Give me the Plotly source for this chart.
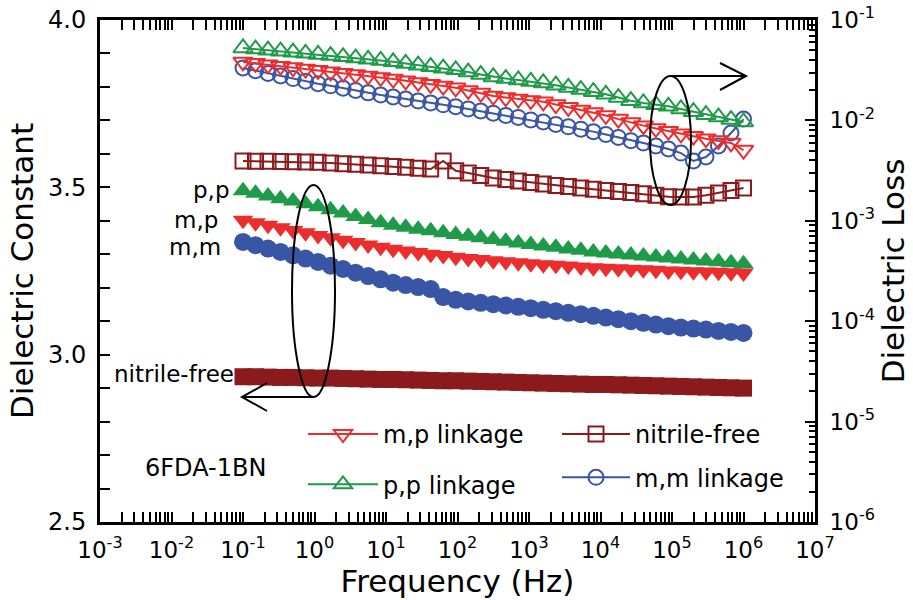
import plotly.graph_objects as go

# Frequency sweep (Hz)
freq_hz = [0.1, 0.1496, 0.2239, 0.3350, 0.5012, 0.7499, 1.122, 1.679, 2.512, 3.758,
           5.623, 8.414, 12.59, 18.84, 28.18, 42.17, 63.10, 94.41, 141.3, 211.3,
           316.2, 473.2, 707.9, 1059, 1585, 2371, 3548, 5309, 7943, 11885,
           17783, 26607, 39811, 59566, 89125, 133352, 199526, 298538, 446684, 668344,
           1000000]

# Dielectric constant (left axis)
eps_pp = [3.490, 3.482, 3.474, 3.466, 3.459, 3.451, 3.442, 3.433, 3.423, 3.413,
          3.404, 3.394, 3.387, 3.381, 3.375, 3.370, 3.364, 3.359, 3.354, 3.349,
          3.344, 3.339, 3.334, 3.329, 3.325, 3.321, 3.316, 3.312, 3.307, 3.304,
          3.301, 3.298, 3.295, 3.292, 3.289, 3.286, 3.283, 3.280, 3.278, 3.275,
          3.272]
eps_mp = [3.402, 3.394, 3.387, 3.379, 3.371, 3.364, 3.356, 3.349, 3.342, 3.335,
          3.328, 3.321, 3.315, 3.310, 3.305, 3.300, 3.296, 3.291, 3.287, 3.284,
          3.281, 3.278, 3.275, 3.272, 3.269, 3.267, 3.265, 3.262, 3.260, 3.258,
          3.257, 3.255, 3.254, 3.252, 3.250, 3.249, 3.248, 3.247, 3.246, 3.245,
          3.244]
eps_mm = [3.337, 3.327, 3.317, 3.307, 3.297, 3.287, 3.277, 3.266, 3.256, 3.245,
          3.235, 3.225, 3.215, 3.208, 3.202, 3.196, 3.172, 3.164, 3.159, 3.155,
          3.151, 3.147, 3.143, 3.139, 3.134, 3.130, 3.125, 3.121, 3.116, 3.111,
          3.106, 3.100, 3.095, 3.090, 3.085, 3.081, 3.078, 3.075, 3.071, 3.068,
          3.065]
eps_nf = [2.934, 2.934, 2.933, 2.932, 2.932, 2.931, 2.930, 2.930, 2.929, 2.928,
          2.927, 2.926, 2.926, 2.925, 2.924, 2.923, 2.922, 2.922, 2.921, 2.920,
          2.919, 2.918, 2.917, 2.916, 2.915, 2.914, 2.913, 2.912, 2.911, 2.911,
          2.910, 2.909, 2.908, 2.907, 2.906, 2.905, 2.904, 2.903, 2.902, 2.901,
          2.900]

# Dielectric loss (right axis)
loss_pp = [0.0526, 0.0513, 0.0501, 0.0489, 0.0478, 0.0466, 0.0454, 0.0442, 0.0430, 0.0418,
           0.0406, 0.0395, 0.0383, 0.0369, 0.0355, 0.0343, 0.0331, 0.0319, 0.0303, 0.0286,
           0.0271, 0.0261, 0.0253, 0.0244, 0.0236, 0.0224, 0.0213, 0.0203, 0.0193, 0.0182,
           0.0169, 0.0157, 0.0149, 0.0143, 0.0138, 0.0130, 0.0122, 0.0114, 0.0108, 0.0102,
           0.00964]
loss_mp = [0.0382, 0.0370, 0.0358, 0.0347, 0.0336, 0.0325, 0.0315, 0.0305, 0.0295, 0.0286,
           0.0277, 0.0268, 0.0258, 0.0248, 0.0239, 0.0229, 0.0220, 0.0211, 0.0199, 0.0187,
           0.0175, 0.0169, 0.0163, 0.0158, 0.0153, 0.0144, 0.0135, 0.0127, 0.0120, 0.0112,
           0.0103, 0.00953, 0.00887, 0.00832, 0.00780, 0.00735, 0.00696, 0.00657, 0.00631, 0.00596,
           0.00507]
loss_mm = [0.0333, 0.0313, 0.0294, 0.0277, 0.0261, 0.0246, 0.0232, 0.0221, 0.0209, 0.0199,
           0.0188, 0.0179, 0.0171, 0.0163, 0.0156, 0.0149, 0.0143, 0.0137, 0.0130, 0.0124,
           0.0118, 0.0112, 0.0107, 0.0101, 0.00964, 0.00912, 0.00863, 0.00817, 0.00773, 0.00725,
           0.00676, 0.00628, 0.00596, 0.00556, 0.00519, 0.00473, 0.00394, 0.00432, 0.00556, 0.00749,
           0.0103]
loss_nf = [0.00394, 0.00392, 0.00391, 0.00390, 0.00388, 0.00386, 0.00383, 0.00377, 0.00371, 0.00365,
           0.00360, 0.00354, 0.00348, 0.00341, 0.00334, 0.00328, 0.00394, 0.00315, 0.00299, 0.00282,
           0.00267, 0.00258, 0.00249, 0.00241, 0.00233, 0.00225, 0.00219, 0.00212, 0.00206, 0.00200,
           0.00196, 0.00191, 0.00186, 0.00180, 0.00174, 0.00173, 0.00173, 0.00180, 0.00189, 0.00200,
           0.00212]

# Axis ticks
x_decades = [1e-3, 1e-2, 1e-1, 1e0, 1e1, 1e2, 1e3, 1e4, 1e5, 1e6, 1e7]
x_tick_text = ["10<sup>-3</sup>", "10<sup>-2</sup>", "10<sup>-1</sup>", "10<sup>0</sup>",
               "10<sup>1</sup>", "10<sup>2</sup>", "10<sup>3</sup>", "10<sup>4</sup>",
               "10<sup>5</sup>", "10<sup>6</sup>", "10<sup>7</sup>"]
eps_ticks = [2.5, 3.0, 3.5, 4.0]
eps_tick_text = ["2.5", "3.0", "3.5", "4.0"]
loss_decades = [1e-6, 1e-5, 1e-4, 1e-3, 1e-2, 1e-1]
loss_tick_text = ["10<sup>-6</sup>", "10<sup>-5</sup>", "10<sup>-4</sup>",
                  "10<sup>-3</sup>", "10<sup>-2</sup>", "10<sup>-1</sup>"]

RED = "#EC2D2D"
GREEN = "#1F9A48"
BLUE = "#3955A6"
MAROON = "#8A1A1C"
FONT = "DejaVu Sans"

W, H = 913, 600
ML, MR, MT, MB = 100, 98, 20, 78
PW, PH = W - ML - MR, H - MT - MB


def fx(x):
    return (x - ML) / PW


def fy(y):
    return (H - MB - y) / PH


fig = go.Figure()

# Dielectric constant: filled markers
for vals, color, sym, size in [
    (eps_nf, MAROON, "square", 17),
    (eps_mm, BLUE, "circle", 18),
    (eps_mp, RED, "triangle-down", 18),
    (eps_pp, GREEN, "triangle-up", 18),
]:
    fig.add_trace(go.Scatter(
        x=freq_hz, y=vals, mode="lines+markers", yaxis="y",
        line=dict(color=color, width=2),
        marker=dict(symbol=sym, size=size, color=color, line=dict(width=0)),
        showlegend=False, hoverinfo="x+y"))

# Dielectric loss: open markers
for name, vals, color, sym, size, leg in [
    ("nitrile-free", loss_nf, MAROON, "square-open", 15, "legend2"),
    ("m,m linkage", loss_mm, BLUE, "circle-open", 15, "legend2"),
    ("m,p linkage", loss_mp, RED, "triangle-down-open", 17, "legend"),
    ("p,p linkage", loss_pp, GREEN, "triangle-up-open", 17, "legend"),
]:
    fig.add_trace(go.Scatter(
        x=freq_hz, y=vals, mode="lines+markers", yaxis="y2", name=name,
        line=dict(color=color, width=2),
        marker=dict(symbol=sym, size=size, color=color, line=dict(width=2, color=color)),
        legend=leg, legendgroup=name))

axis_common = dict(
    ticks="inside", ticklen=10, tickwidth=2, tickcolor="black",
    showline=True, linewidth=3, linecolor="black",
    showgrid=False, zeroline=False, automargin=False,
)
log_tick_font = dict(family=FONT, size=23, color="black")

fig.update_layout(
    width=W, height=H,
    margin=dict(l=ML, r=MR, t=MT, b=MB, pad=0, autoexpand=False),
    paper_bgcolor="white", plot_bgcolor="white",
    font=dict(family=FONT, color="black"),
    xaxis=dict(
        type="log", range=[-3, 7], tickmode="array",
        tickvals=x_decades, ticktext=x_tick_text, mirror="allticks",
        minor=dict(tickmode="array",
                   tickvals=[m * d for d in x_decades[:-1] for m in range(2, 10)],
                   ticks="inside", ticklen=6, tickwidth=1.5, tickcolor="black",
                   showgrid=False),
        ticklabelstandoff=5, tickfont=log_tick_font,
        title=dict(text="Frequency (Hz)", font=dict(family=FONT, size=31), standoff=4),
        **axis_common),
    yaxis=dict(
        range=[2.5, 4.0], tickmode="array", tickvals=eps_ticks, ticktext=eps_tick_text,
        mirror=False,
        minor=dict(tickmode="linear", tick0=2.5, dtick=0.1, ticks="inside",
                   ticklen=10, tickwidth=2, tickcolor="black", showgrid=False),
        ticklabelstandoff=6, tickfont=dict(family=FONT, size=24, color="black"),
        title=dict(text="Dielectric Constant", font=dict(family=FONT, size=31), standoff=6),
        **axis_common),
    yaxis2=dict(
        type="log", range=[-6, -1], overlaying="y", side="right",
        tickmode="array", tickvals=loss_decades, ticktext=loss_tick_text,
        minor=dict(tickmode="array",
                   tickvals=[m * d for d in loss_decades[:-1] for m in range(2, 10)],
                   ticks="inside", ticklen=6, tickwidth=1.5, tickcolor="black",
                   showgrid=False),
        ticklabelstandoff=7, tickfont=log_tick_font,
        title=dict(text="Dielectric Loss", font=dict(family=FONT, size=31), standoff=4),
        **axis_common),
    legend=dict(x=fx(303), y=fy(412), xanchor="left", yanchor="top",
                bgcolor="rgba(0,0,0,0)", font=dict(family=FONT, size=24),
                itemwidth=70, traceorder="grouped", tracegroupgap=16),
    legend2=dict(x=fx(557), y=fy(412), xanchor="left", yanchor="top",
                 bgcolor="rgba(0,0,0,0)", font=dict(family=FONT, size=24),
                 itemwidth=68, traceorder="grouped", tracegroupgap=9),
    showlegend=True,
)

# Series labels next to the constant curves
for text, xr, yc in [("p,p", 232, 190), ("m,p", 220, 220), ("m,m", 223, 247),
                     ("nitrile-free", 236, 374)]:
    fig.add_annotation(x=fx(xr), y=fy(yc), xref="paper", yref="paper", text=text,
                       showarrow=False, xanchor="right", yanchor="middle",
                       font=dict(family=FONT, size=23, color="black"))

fig.add_annotation(x=fx(143), y=fy(468), xref="paper", yref="paper", text="6FDA-1BN",
                   showarrow=False, xanchor="left", yanchor="middle",
                   font=dict(family=FONT, size=24, color="black"))

# Ellipses marking the two groups, with open arrows to their axes
line_style = dict(color="black", width=2)
fig.add_shape(type="circle", xref="paper", yref="paper",
              x0=fx(292), x1=fx(335), y0=fy(397), y1=fy(185), line=line_style)
fig.add_shape(type="circle", xref="paper", yref="paper",
              x0=fx(650), x1=fx(691), y0=fy(205), y1=fy(76), line=line_style)


def poly(points):
    return "M " + " L ".join(f"{fx(a):.5f},{fy(b):.5f}" for a, b in points)


fig.add_shape(type="path", xref="paper", yref="paper",
              path=poly([(313, 397), (242, 397)]), line=line_style)
fig.add_shape(type="path", xref="paper", yref="paper",
              path=poly([(267, 383), (242, 397), (267, 411)]), line=line_style)
fig.add_shape(type="path", xref="paper", yref="paper",
              path=poly([(670, 76), (746, 76)]), line=line_style)
fig.add_shape(type="path", xref="paper", yref="paper",
              path=poly([(720, 63), (746, 76), (720, 90)]), line=line_style)

fig.write_html("out.html")
